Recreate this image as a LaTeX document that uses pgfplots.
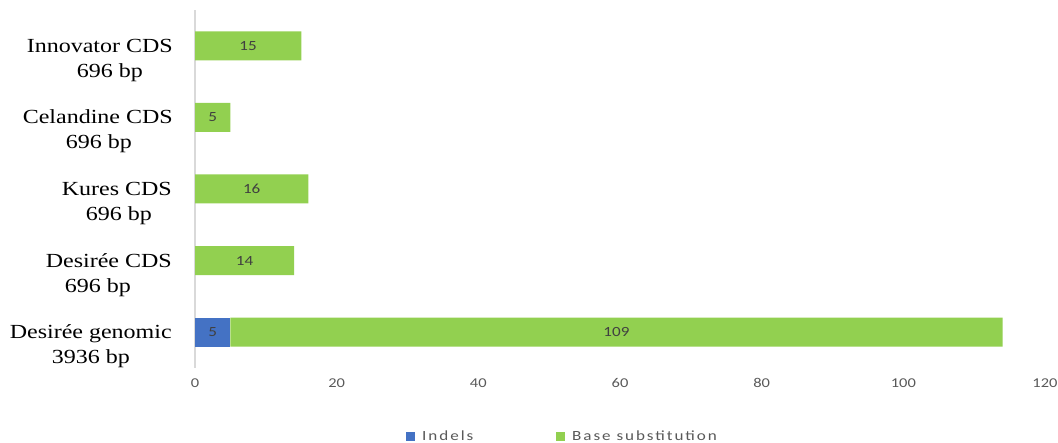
\documentclass[border=0pt]{standalone}
\usepackage{fontspec}
\usepackage{pgfplots}
\usepackage{pgfplotstable}
\pgfplotsset{compat=1.18}
\setmainfont{Liberation Serif}[FakeStretch=1.2]
\newfontfamily\calib{Carlito}[FakeStretch=1.22]
\newfontfamily\calibsp{Carlito}[FakeStretch=1.22,LetterSpace=14]
\definecolor{indblue}{HTML}{4472C4}
\definecolor{subgreen}{HTML}{92D050}
\definecolor{axisgray}{HTML}{D9D9D9}
\definecolor{ticktext}{HTML}{595959}
\definecolor{lbltext}{HTML}{404040}
\newcommand\lbl[4]{\vbox{\baselineskip=25pt\lineskiplimit=-100pt\hbox to 180pt{\hspace*{#1pt}#2\hfil}\hbox to 180pt{\hspace*{#3pt}#4\hfil}}}
\pgfplotstableread{
y ind sub
0 5 109
1 0 14
2 0 16
3 0 5
4 0 15
}\datatable
\begin{document}
\begin{tikzpicture}
\path[use as bounding box] (0,0) rectangle (1058pt,443pt);
\begin{axis}[
  at={(195pt,75pt)}, anchor=south west,
  scale only axis, width=850pt, height=358pt,
  xbar stacked, bar width=0.405,
  xmin=0, xmax=120, ymin=-0.5, ymax=4.5,
  enlargelimits=false,
  axis lines*=left,
  x axis line style={draw=none},
  y axis line style={draw=axisgray, line width=1.5pt},
  tick style={draw=none},
  xtick={0,20,...,120},
  ytick={0,1,2,3,4},
  yticklabels={
    {\lbl{10}{Desirée genomic}{52}{3936 bp}},
    {\lbl{46}{Desirée CDS}{65}{696 bp}},
    {\lbl{62}{Kures CDS}{86}{696 bp}},
    {\lbl{23}{Celandine CDS}{66}{696 bp}},
    {\lbl{27}{Innovator CDS}{77}{696 bp}}},
  yticklabel style={anchor=base east, inner sep=0pt, xshift=-15pt, yshift=-31.5pt,
    font=\fontsize{20}{25}\selectfont, text=black},
  xticklabel style={anchor=center, inner sep=0pt, yshift=-15pt,
    font=\calib\fontsize{13.5}{16}\selectfont, text=ticktext},
  /pgf/number format/assume math mode=true,
  point meta=explicit symbolic,
  nodes near coords={\ifnum\pgfplotspointmeta=0 \else\pgfplotspointmeta\fi},
  every node near coord/.append style={anchor=center, inner sep=0pt,
    font=\calib\fontsize{14}{16}\selectfont, text=lbltext},
  legend columns=2,
  legend style={draw=none, fill=none, inner sep=0pt, at={(0.2482,-0.19)}, anchor=west,
    font=\calibsp\fontsize{14}{16}\selectfont, text=ticktext,
    nodes={inner sep=0pt},
    /tikz/every odd column/.append style={column sep=7pt},
    /tikz/every even column/.append style={column sep=0pt}},
  legend image code/.code={\fill[#1] (0pt,-4.5pt) rectangle (9pt,4.5pt);},
]
\addplot[fill=indblue, draw=none]
  table[x=ind, y=y, meta=ind] {\datatable};
\addlegendentry{\makebox[134pt][l]{Indels}}
\addplot[fill=subgreen, draw=none]
  table[x=sub, y=y, meta=sub] {\datatable};
\addlegendentry{Base substitution}
\end{axis}
\end{tikzpicture}
\end{document}
